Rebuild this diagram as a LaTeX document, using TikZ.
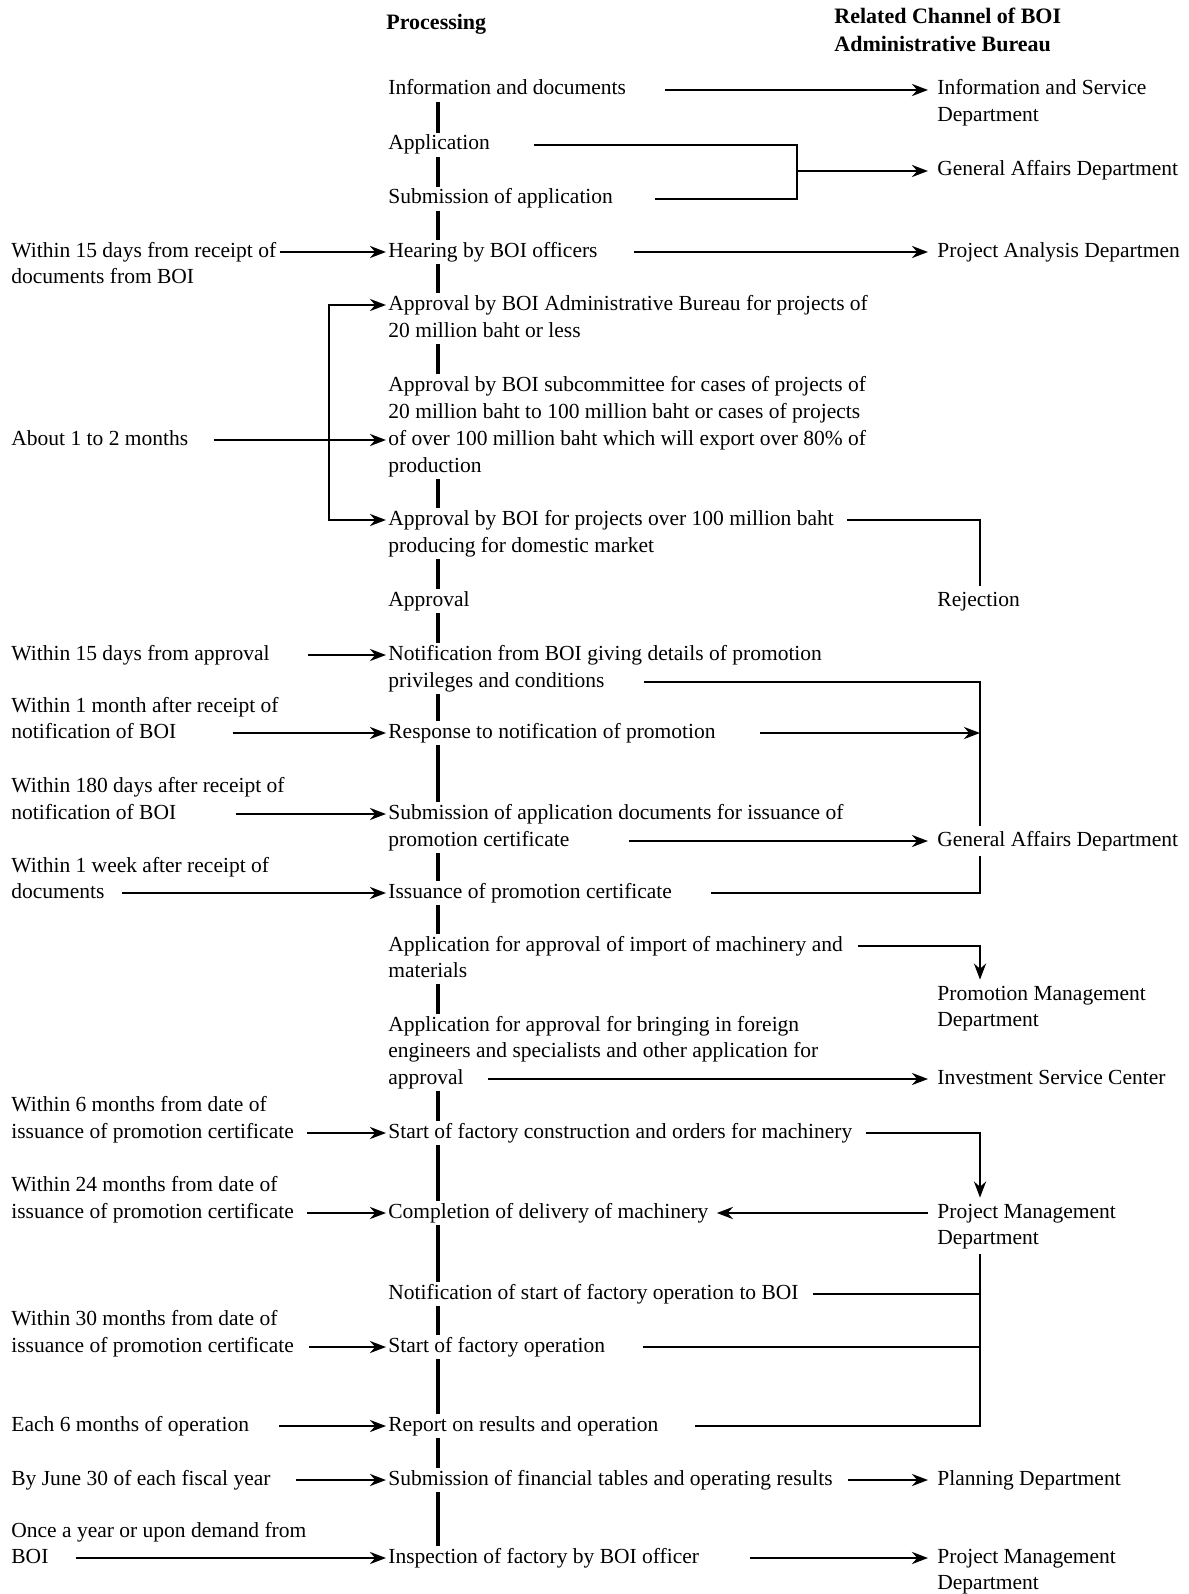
\documentclass[tikz,border=0pt]{standalone}
\usepackage{fontspec}
\setmainfont{Liberation Serif}
\usetikzlibrary{arrows.meta,calc}
\begin{document}
\begin{tikzpicture}[x=0.5pt,y=-0.5pt,
  every node/.style={font=\fontsize{10.75}{13}\selectfont,inner sep=0pt,text height=7pt,text depth=2pt},
  pc/.style={anchor=west,inner xsep=1pt,inner ysep=1.5pt},
  tm/.style={anchor=west},
  dp/.style={anchor=west,inner xsep=4.5pt,inner ysep=3pt},
  hd/.style={anchor=west,font=\fontsize{11}{13}\selectfont\bfseries},
  ln/.style={line width=1.4pt},
  ar/.style={line width=1.4pt,-{Stealth[length=8pt,width=6pt]}},
  dual/.style={line width=1.4pt,{Stealth[length=8pt,width=6pt]}-{Stealth[length=8pt,width=6pt]}},
  spine/.style={line width=1.6pt}]
\useasboundingbox (0,0) rectangle (1188,1594);
\coordinate (sp) at (438,0);  % processing spine
\coordinate (cB) at (329,0);  % approval bracket
\coordinate (cG) at (797,0);  % application junction
\coordinate (cR) at (980,0);  % right channel
%------------- headers
\node[hd] (proc) at (386,25) {Processing};
\node[hd] (rhA) at (834,19) {Related Channel of BOI};
\node[hd] (rhB) at (834,47) {Administrative Bureau};
%------------- processing column
\node[pc] (info) at (386,90) {Information and documents};
\node[pc] (app) at (386,145) {Application};
\node[pc] (subm) at (386,199) {Submission of application};
\node[pc] (hear) at (386,252) {Hearing by BOI officers};
\node[pc] (apA1) at (386,305) {Approval by BOI Administrative Bureau for projects of};
\node[pc] (apA2) at (386,332) {20 million baht or less};
\node[pc] (apB1) at (386,386) {Approval by BOI subcommittee for cases of projects of};
\node[pc] (apB2) at (386,413) {20 million baht to 100 million baht or cases of projects};
\node[pc] (apB3) at (386,440) {of over 100 million baht which will export over 80\% of};
\node[pc] (apB4) at (386,467) {production};
\node[pc] (apC1) at (386,520) {Approval by BOI for projects over 100 million baht};
\node[pc] (apC2) at (386,547) {producing for domestic market};
\node[pc] (appr) at (386,601) {Approval};
\node[pc] (notA) at (386,655) {Notification from BOI giving details of promotion};
\node[pc] (notB) at (386,682) {privileges and conditions};
\node[pc] (resp) at (386,733) {Response to notification of promotion};
\node[pc] (subA) at (386,814) {Submission of application documents for issuance of};
\node[pc] (subB) at (386,841) {promotion certificate};
\node[pc] (iss) at (386,893) {Issuance of promotion certificate};
\node[pc] (impA) at (386,946) {Application for approval of import of machinery and};
\node[pc] (impB) at (386,972) {materials};
\node[pc] (forA) at (386,1026) {Application for approval for bringing in foreign};
\node[pc] (forB) at (386,1052) {engineers and specialists and other application for};
\node[pc] (forC) at (386,1079) {approval};
\node[pc] (constr) at (386,1133) {Start of factory construction and orders for machinery};
\node[pc] (compl) at (386,1213) {Completion of delivery of machinery};
\node[pc] (notS) at (386,1294) {Notification of start of factory operation to BOI};
\node[pc] (startop) at (386,1347) {Start of factory operation};
\node[pc] (report) at (386,1426) {Report on results and operation};
\node[pc] (fin) at (386,1480) {Submission of financial tables and operating results};
\node[pc] (insp) at (386,1558) {Inspection of factory by BOI officer};
\foreach \a/\b in {info/app,app/subm,subm/hear,hear/apA1,apA2/apB1,apB4/apC1,apC2/appr,appr/notA,notB/resp,resp/subA,subB/iss,iss/impA,impB/forA,forC/constr,constr/compl,compl/notS,notS/startop,startop/report,report/fin,fin/insp}
  \draw[spine] (\a.south -| sp) -- (\b.north -| sp);
%------------- time limits
\node[tm] (lHearA) at (11,252) {Within 15 days from receipt of};
\node[tm] (lHearB) at (11,279) {documents from BOI};
\node[tm] (lAbout) at (11,440) {About 1 to 2 months};
\node[tm] (lAppr) at (11,655) {Within 15 days from approval};
\node[tm] (lRespA) at (11,707) {Within 1 month after receipt of};
\node[tm] (lRespB) at (11,733) {notification of BOI};
\node[tm] (lSubA) at (11,787) {Within 180 days after receipt of};
\node[tm] (lSubB) at (11,814) {notification of BOI};
\node[tm] (lIssA) at (11,867) {Within 1 week after receipt of};
\node[tm] (lIssB) at (11,893) {documents};
\node[tm] (lConA) at (11,1106) {Within 6 months from date of};
\node[tm] (lConB) at (11,1133) {issuance of promotion certificate};
\node[tm] (lComA) at (11,1186) {Within 24 months from date of};
\node[tm] (lComB) at (11,1213) {issuance of promotion certificate};
\node[tm] (lOpA) at (11,1320) {Within 30 months from date of};
\node[tm] (lOpB) at (11,1347) {issuance of promotion certificate};
\node[tm] (lRep) at (11,1426) {Each 6 months of operation};
\node[tm] (lFin) at (11,1480) {By June 30 of each fiscal year};
\node[tm] (lInsA) at (11,1532) {Once a year or upon demand from};
\node[tm] (lInsB) at (11,1558) {BOI};
\draw[ar] ($(lHearA.east)+(3,0)$) -- (hear.west);
\draw[ar] ($(lAbout.east)+(25,0)$) -- (apB3.west);
\draw[dual] (apA1.west) -| (apC1.west -| cB) -- (apC1.west);
\draw[ar] ($(lAppr.east)+(38,0)$) -- (notA.west);
\draw[ar] ($(lRespB.east)+(56,0)$) -- (resp.west);
\draw[ar] ($(lSubB.east)+(59,0)$) -- (subA.west);
\draw[ar] ($(lIssB.east)+(17,0)$) -- (iss.west);
\draw[ar] ($(lConB.east)+(13,0)$) -- (constr.west);
\draw[ar] ($(lComB.east)+(13,0)$) -- (compl.west);
\draw[ar] ($(lOpB.east)+(15,0)$) -- (startop.west);
\draw[ar] ($(lRep.east)+(30,0)$) -- (report.west);
\draw[ar] ($(lFin.east)+(25,0)$) -- (fin.west);
\draw[ar] ($(lInsB.east)+(27,0)$) -- (insp.west);
%------------- related channels
\node[dp] (isdA) at (928,90) {Information and Service};
\node[dp] (isdB) at (928,117) {Department};
\node[dp] (gaA) at (928,171) {General Affairs Department};
\node[dp] (pad) at (928,252) {Project Analysis Departmen};
\node[dp] (rej) at (928,601) {Rejection};
\node[dp] (gaB) at (928,841) {General Affairs Department};
\node[dp] (pmdA) at (928,995) {Promotion Management};
\node[dp] (pmdB) at (928,1021) {Department};
\node[dp] (isc) at (928,1079) {Investment Service Center};
\node[dp] (pjmA) at (928,1213) {Project Management};
\node[dp] (pjmB) at (928,1239) {Department};
\node[dp] (plan) at (928,1480) {Planning Department};
\node[dp] (pjmC) at (928,1558) {Project Management};
\node[dp] (pjmD) at (928,1584) {Department};
\draw[ar] ($(info.east)+(37,0)$) -- (isdA.west);
\draw[ln] ($(app.east)+(42,0)$) -- (app.east -| cG) -- (subm.east -| cG) -- ($(subm.east)+(40,0)$);
\draw[ar] (gaA.west -| cG) -- (gaA.west);
\draw[ar] ($(hear.east)+(34,0)$) -- (pad.west);
\draw[ln] ($(apC1.east)+(11,0)$) -- (apC1.east -| cR) -- (rej.north -| cR);
\draw[ln] ($(notB.east)+(37,0)$) -- (notB.east -| cR) -- (gaB.north -| cR);
\draw[ar] ($(resp.east)+(42,0)$) -- (resp.east -| cR);
\draw[ar] ($(subB.east)+(57,0)$) -- (gaB.west);
\draw[ln] ($(iss.east)+(37,0)$) -- (iss.east -| cR) -- (gaB.south -| cR);
\draw[ar] ($(impA.east)+(13,0)$) -- (impA.east -| cR) -- (pmdA.north -| cR);
\draw[ar] ($(forC.east)+(22,0)$) -- (isc.west);
\draw[ar] ($(constr.east)+(11,0)$) -- (constr.east -| cR) -- (pjmA.north -| cR);
\draw[ar] (pjmA.west) -- ($(compl.east)+(6,0)$);
\draw[ln] (pjmB.south -| cR) -- (report.east -| cR) -- ($(report.east)+(34,0)$);
\draw[ln] ($(notS.east)+(12,0)$) -- (notS.east -| cR);
\draw[ln] ($(startop.east)+(35,0)$) -- (startop.east -| cR);
\draw[ar] ($(fin.east)+(13,0)$) -- (plan.west);
\draw[ar] ($(insp.east)+(49,0)$) -- (pjmC.west);
\end{tikzpicture}
\end{document}
